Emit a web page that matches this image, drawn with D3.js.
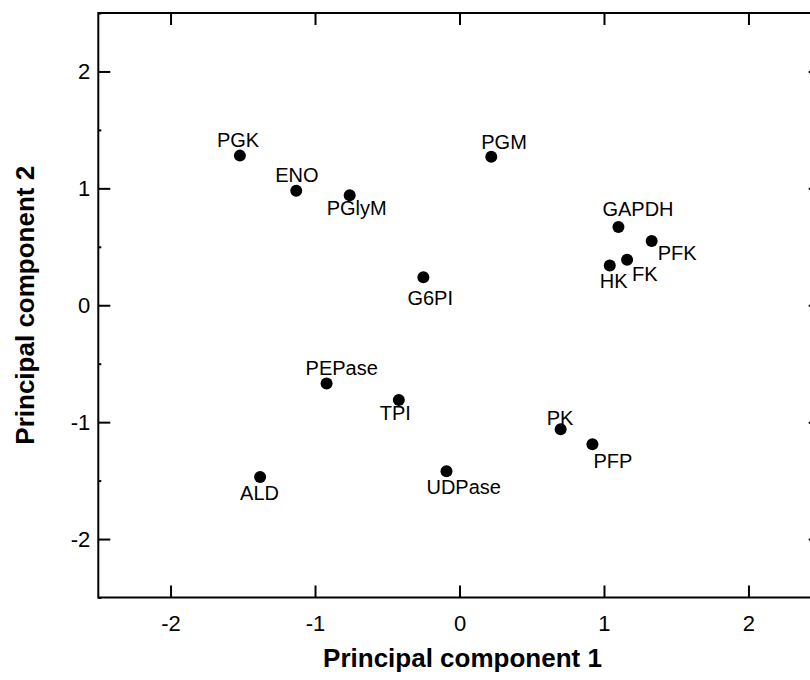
<!DOCTYPE html>
<html>
<head>
    <meta charset="UTF-8">
    <title>Principal components</title>
    <style>
        body {
            margin: 0;
            background-color: white;
            overflow: hidden;
        }
        svg {
            display: block;
            font-family: Arial, "Liberation Sans", sans-serif;
        }
        .tick text {
            font-family: Arial, "Liberation Sans", sans-serif;
            font-size: 22px;
            fill: black;
        }
        .tick line {
            stroke: black;
            stroke-width: 2px;
        }
        .label {
            font-size: 20px;
            fill: black;
        }
        .title {
            font-size: 26px;
            font-weight: bold;
            fill: black;
        }
    </style>
</head>
<body>
    <svg id="chart" width="810" height="680"></svg>

    <script src="https://d3js.org/d3.v7.min.js"></script>
    <script>
        // Enzyme names and their scores on the first two components
        var enzymes = ["PGK", "ENO", "PGlyM", "PGM", "GAPDH", "PFK", "FK", "HK", "G6PI",
                       "PEPase", "TPI", "ALD", "UDPase", "PK", "PFP"];
        var pc1 = [-1.52, -1.13, -0.76, 0.22, 1.10, 1.33, 1.16, 1.04, -0.25,
                   -0.92, -0.42, -1.38, -0.09, 0.70, 0.92];
        var pc2 = [1.28, 0.98, 0.94, 1.27, 0.67, 0.55, 0.39, 0.34, 0.24,
                   -0.67, -0.81, -1.47, -1.42, -1.06, -1.19];

        var xTicks = [-2, -1, 0, 1, 2];
        var yTicks = [-2, -1, 0, 1, 2];
        var yMinorTicks = [-2.5, -1.5, -0.5, 0.5, 1.5, 2.5];

        var xTitle = "Principal component 1";
        var yTitle = "Principal component 2";

        // where each label sits relative to its dot (pixels, left edge / baseline)
        var labelPlacement = {
            "PGK":    [-23, -9],
            "ENO":    [-21, -9],
            "PGlyM":  [-23, 20],
            "PGM":    [-10, -8],
            "GAPDH":  [-16, -11],
            "PFK":    [6, 19],
            "FK":     [5, 21],
            "HK":     [-10, 22],
            "G6PI":   [-16, 28],
            "PEPase": [-21, -9],
            "TPI":    [-19, 20],
            "ALD":    [-20, 23],
            "UDPase": [-20, 23],
            "PK":     [-14, -4],
            "PFP":    [1, 24]
        };

        var points = enzymes.map(function(name, i) {
            return { name: name, x: pc1[i], y: pc2[i] };
        });

        // plain hyphen for negatives, like the original
        function tickFmt(d) { return String(d); }

        var svg = d3.select("#chart");

        var plotLeft = 98.3, plotRight = 820.7, plotTop = 13, plotBottom = 597.5;

        var x = d3.scaleLinear().domain([-2.5, 2.5]).range([plotLeft, plotRight]);
        var y = d3.scaleLinear().domain([-2.5, 2.5]).range([plotBottom, plotTop]);

        // bottom axis (ticks point inward)
        var xAxis = svg.append("g")
            .attr("transform", "translate(0," + plotBottom + ")")
            .call(d3.axisBottom(x).tickValues(xTicks).tickFormat(tickFmt)
                .tickSizeInner(-12).tickSizeOuter(0).tickPadding(18));
        xAxis.select(".domain").remove();

        // top axis, ticks only
        var xTop = svg.append("g")
            .attr("transform", "translate(0," + plotTop + ")")
            .call(d3.axisTop(x).tickValues(xTicks).tickFormat("")
                .tickSizeInner(-12).tickSizeOuter(0));
        xTop.select(".domain").remove();

        // left axis
        var yAxis = svg.append("g")
            .attr("transform", "translate(" + plotLeft + ",0)")
            .call(d3.axisLeft(y).tickValues(yTicks).tickFormat(tickFmt)
                .tickSizeInner(-12).tickSizeOuter(0).tickPadding(8));
        yAxis.select(".domain").remove();

        var yMinor = svg.append("g")
            .attr("transform", "translate(" + plotLeft + ",0)")
            .call(d3.axisLeft(y).tickValues(yMinorTicks).tickFormat("")
                .tickSizeInner(-3).tickSizeOuter(0));
        yMinor.select(".domain").remove();

        // right axis, ticks only
        var yRight = svg.append("g")
            .attr("transform", "translate(" + plotRight + ",0)")
            .call(d3.axisRight(y).tickValues(yTicks).tickFormat("")
                .tickSizeInner(-12).tickSizeOuter(0));
        yRight.select(".domain").remove();

        var yRightMinor = svg.append("g")
            .attr("transform", "translate(" + plotRight + ",0)")
            .call(d3.axisRight(y).tickValues(yMinorTicks).tickFormat("")
                .tickSizeInner(-3).tickSizeOuter(0));
        yRightMinor.select(".domain").remove();

        // frame
        svg.append("rect")
            .attr("x", plotLeft)
            .attr("y", plotTop)
            .attr("width", plotRight - plotLeft)
            .attr("height", plotBottom - plotTop)
            .attr("fill", "none")
            .attr("stroke", "black")
            .attr("stroke-width", 2);

        // dots
        svg.append("g").selectAll("circle")
            .data(points)
            .enter().append("circle")
            .attr("cx", function(d) { return x(d.x); })
            .attr("cy", function(d) { return y(d.y); })
            .attr("r", 6)
            .attr("fill", "black");

        // labels
        svg.append("g").selectAll("text")
            .data(points)
            .enter().append("text")
            .attr("class", "label")
            .attr("x", function(d) { return x(d.x) + labelPlacement[d.name][0]; })
            .attr("y", function(d) { return y(d.y) + labelPlacement[d.name][1]; })
            .text(function(d) { return d.name; });

        // axis titles
        svg.append("text")
            .attr("class", "title")
            .attr("x", (plotLeft + plotRight) / 2 + 3)
            .attr("y", 667)
            .attr("text-anchor", "middle")
            .text(xTitle);

        svg.append("text")
            .attr("class", "title")
            .attr("transform", "translate(34," + ((plotTop + plotBottom) / 2) + ") rotate(-90)")
            .attr("text-anchor", "middle")
            .text(yTitle);
    </script>
</body>
</html>
